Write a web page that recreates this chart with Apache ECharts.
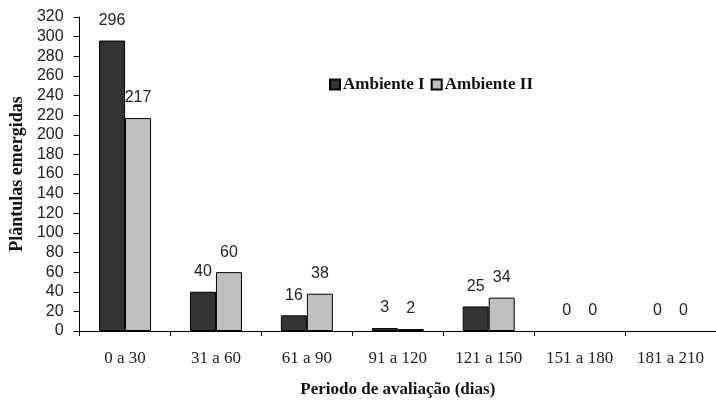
<!DOCTYPE html>
<html><head><meta charset="utf-8">
<script src="https://cdn.jsdelivr.net/npm/echarts@6/dist/echarts.min.js"></script>
<style>html,body{margin:0;padding:0;background:#fff}#c{width:716px;height:403px}</style>
</head><body><div id="c"></div>
<script>
const categories = ['0 a 30','31 a 60','61 a 90','91 a 120','121 a 150','151 a 180','181 a 210'];
const ambienteI = [296, 40, 16, 3, 25, 0, 0];
const ambienteII = [217, 60, 38, 2, 34, 0, 0];
const seriesNames = ['Ambiente I', 'Ambiente II'];
const yTitle = 'Plântulas emergidas';
const xTitle = 'Periodo de avaliação (dias)';

// zero-height bars drawn without an outline
const toData = arr => arr.map(v => v === 0 ? {value: v, itemStyle: {borderWidth: 0}} : v);

const chart = echarts.init(document.getElementById('c'), null, {renderer:'canvas'});
const serif = 'Liberation Serif, Times New Roman, serif';
const sans = 'Liberation Sans, Arial, sans-serif';
const lbl = {show:true, position:'top', color:'#222', fontFamily:sans, fontSize:16, distance:12};
chart.setOption({
  animation:false,
  backgroundColor:'#fff',
  grid:{left:79, top:17, bottom:70, right:-11, containLabel:false},
  legend:{
    left:324, top:71, itemWidth:10, itemHeight:10, itemGap:6, icon:'rect',
    textStyle:{fontFamily:serif, fontWeight:'bold', fontSize:17, color:'#111', padding:[0,0,0,-2]},
    data:seriesNames
  },
  xAxis:{
    type:'category', data:categories,
    name:xTitle, nameLocation:'middle', nameGap:50,
    nameTextStyle:{fontFamily:serif, fontWeight:'bold', fontSize:17, color:'#111'},
    axisLine:{lineStyle:{color:'#000', width:1}},
    axisTick:{show:true, length:5, lineStyle:{color:'#000'}},
    axisLabel:{fontFamily:serif, fontSize:17, color:'#222', margin:19}
  },
  yAxis:{
    type:'value', min:0, max:320, interval:20,
    name:yTitle, nameLocation:'middle', nameGap:52, nameRotate:90,
    nameTextStyle:{fontFamily:serif, fontWeight:'bold', fontSize:18, color:'#111'},
    axisLine:{show:true, lineStyle:{color:'#000'}},
    axisTick:{show:true, length:6, inside:false, lineStyle:{color:'#000'}},
    axisLabel:{fontFamily:sans, fontSize:16, color:'#222', margin:16},
    splitLine:{show:false}
  },
  series:[
    {name:seriesNames[0], type:'bar', data:toData(ambienteI), barWidth:26, barGap:'0%',
     itemStyle:{color:'#333333', borderColor:'#000', borderWidth:1}, label:lbl},
    {name:seriesNames[1], type:'bar', data:toData(ambienteII), barWidth:26,
     itemStyle:{color:'#c0c0c0', borderColor:'#000', borderWidth:1}, label:lbl}
  ]
});
</script></body></html>
